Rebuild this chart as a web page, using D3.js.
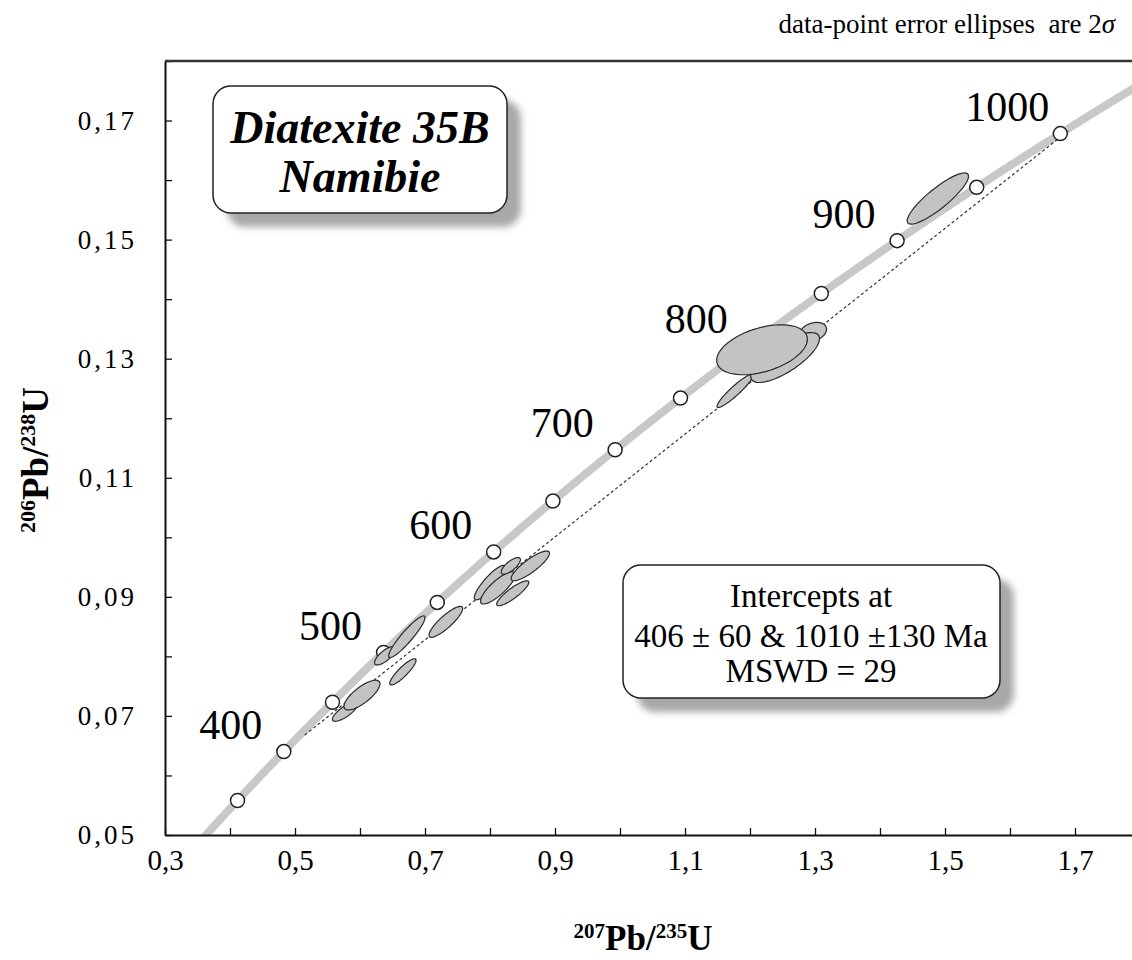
<!DOCTYPE html>
<html><head><meta charset="utf-8">
<script src="https://cdn.jsdelivr.net/npm/d3@7"></script>
<style>body{margin:0;background:#fff}svg{display:block}</style>
</head><body>
<svg id="chart" width="1132" height="960"></svg>
<script>
// ---------- data ----------
const xTicks = [0.3,0.4,0.5,0.6,0.7,0.8,0.9,1.0,1.1,1.2,1.3,1.4,1.5,1.6,1.7,1.8];
const xTickLabels = [0.3,0.5,0.7,0.9,1.1,1.3,1.5,1.7];
const yTicks = [0.05,0.06,0.07,0.08,0.09,0.10,0.11,0.12,0.13,0.14,0.15,0.16,0.17,0.18];
const yTickLabels = [0.05,0.07,0.09,0.11,0.13,0.15,0.17];
const markerAges = [350,400,450,500,550,600,650,700,750,800,850,900,950,1000];
const labelAges = [400,500,600,700,800,900,1000];
const concordiaRange = [300,1100];           // Ma
const lambda238 = 1.55125e-10, lambda235 = 9.8485e-10;
const discordiaX = [0.515,1.69];
const discordiaY = [0.0668,0.1683];
// error ellipses (2 sigma): centre, half-widths, correlation
const ellX   = [0.577,0.603,0.666,0.6385,0.672,0.732,0.800,0.812,0.835,0.832,0.862,1.177,1.297,1.254,1.2185,1.489];
const ellY   = [0.0707,0.0735,0.0774,0.0801,0.0833,0.0858,0.0924,0.0915,0.0906,0.0952,0.0952,0.1246,0.1345,0.1302,0.1315,0.1569];
const ellSX  = [0.0194,0.0277,0.0202,0.0161,0.0280,0.0259,0.0241,0.0266,0.0247,0.0148,0.0295,0.0278,0.0208,0.0529,0.0698,0.0472];
const ellSY  = [0.0016,0.0025,0.0022,0.00154,0.0035,0.0026,0.0029,0.0027,0.0021,0.0014,0.0025,0.0028,0.0016,0.0042,0.0042,0.0043];
const ellRho = [0.78,0.76,0.88,0.74,0.92,0.86,0.87,0.82,0.87,0.74,0.85,0.93,0.28,0.75,0.42,0.87];
const titleLines = ["Diatexite 35B","Namibie"];
const resultLines = ["Intercepts at","406 ± 60 & 1010 ±130 Ma","MSWD = 29"];
const noteText = "data-point error ellipses  are 2";
const noteSigma = "σ";
const xTitle = ["207","Pb/","235","U"];
const yTitle = ["206","Pb/","238","U"];

// ---------- setup ----------
const serif = "'Liberation Serif','Times New Roman',serif";
const svg = d3.select("#chart");
const x = d3.scaleLinear().domain([0.3,1.8]).range([165,1140]);
const y = d3.scaleLinear().domain([0.05,0.18]).range([835,61]);
const loc = d3.formatLocale({decimal:",",thousands:".",grouping:[3],currency:["",""]});
const fx = loc.format(".1f"), fy = loc.format(".2f");
const near = (arr,d) => arr.some(v => Math.abs(v-d) < 1e-9);

const defs = svg.append("defs");
defs.append("clipPath").attr("id","plotclip").append("rect")
  .attr("x",x(0.3)).attr("y",y(0.18)).attr("width",x(1.8)-x(0.3)).attr("height",y(0.05)-y(0.18));
const f = defs.append("filter").attr("id","shadow").attr("x","-20%").attr("y","-20%").attr("width","140%").attr("height","140%");
f.append("feGaussianBlur").attr("stdDeviation",3.5);

// ---------- concordia ----------
const conc = t => [Math.exp(lambda235*t*1e6)-1, Math.exp(lambda238*t*1e6)-1];
const concAges = d3.range(concordiaRange[0], concordiaRange[1]+1, 2);
const plot = svg.append("g").attr("clip-path","url(#plotclip)");
plot.append("path")
  .attr("d", d3.line().x(t=>x(conc(t)[0])).y(t=>y(conc(t)[1]))(concAges))
  .attr("fill","none").attr("stroke","#c8c8c8").attr("stroke-width",8);

// discordia
plot.append("path")
  .attr("d", d3.line()(discordiaX.map((v,i)=>[x(v),y(discordiaY[i])])))
  .attr("fill","none").attr("stroke","#333").attr("stroke-width",1.2).attr("stroke-dasharray","3,2.5");

// age markers
plot.selectAll("circle.age").data(markerAges).join("circle")
  .attr("cx",t=>x(conc(t)[0])).attr("cy",t=>y(conc(t)[1])).attr("r",7)
  .attr("fill","#fff").attr("stroke","#222").attr("stroke-width",1.5);

// ellipses
const theta = d3.range(0,64).map(i=>i/64*2*Math.PI);
const ellLine = d3.line().curve(d3.curveLinearClosed);
plot.selectAll("path.ell").data(ellX.map((v,i)=>i)).join("path")
  .attr("d", i => ellLine(theta.map(a => {
      const r = ellRho[i];
      return [x(ellX[i] + ellSX[i]*Math.cos(a)),
              y(ellY[i] + ellSY[i]*(r*Math.cos(a) + Math.sqrt(1-r*r)*Math.sin(a)))];
  })))
  .attr("fill","#c3c3c3").attr("stroke","#2a2a2a").attr("stroke-width",1.2);

// age labels
svg.selectAll("text.agelab").data(labelAges).join("text")
  .attr("x",t=>x(conc(t)[0])-53).attr("y",t=>y(conc(t)[1])-13)
  .attr("text-anchor","middle").attr("font-family",serif).attr("font-size",42)
  .attr("fill","#000").text(t=>t);

// ---------- axes ----------
const xAxis = d3.axisBottom(x).tickValues(xTicks).tickSize(-7).tickSizeOuter(0).tickPadding(14)
  .tickFormat(d => near(xTickLabels,d) ? fx(d) : "");
const gx = svg.append("g").attr("transform",`translate(0,${y(0.05)})`).call(xAxis);
gx.select(".domain").attr("stroke","#111").attr("stroke-width",2);
gx.selectAll(".tick line").attr("stroke","#111").attr("stroke-width",1.3);
gx.selectAll(".tick text").attr("font-family",serif).attr("font-size",29).attr("fill","#000");

const yAxis = d3.axisLeft(y).tickValues(yTicks).tickSize(-7).tickSizeOuter(0).tickPadding(28)
  .tickFormat(d => near(yTickLabels,d) ? fy(d) : "");
const gy = svg.append("g").attr("transform",`translate(${x(0.3)},0)`).call(yAxis);
gy.select(".domain").attr("stroke","#111").attr("stroke-width",2);
gy.selectAll(".tick line").attr("stroke","#111").attr("stroke-width",1.3);
gy.selectAll(".tick text").attr("font-family",serif).attr("font-size",27).attr("letter-spacing","3px").attr("fill","#000");

// top frame line
svg.append("line").attr("x1",x(0.3)).attr("x2",x(1.8)).attr("y1",y(0.18)).attr("y2",y(0.18))
  .attr("stroke","#333").attr("stroke-width",2.5);

// axis titles
const xt = svg.append("text").attr("x",643).attr("y",950).attr("text-anchor","middle")
  .attr("font-family",serif).attr("font-weight","bold").attr("fill","#000");
xTitle.forEach((s,i)=> xt.append("tspan").attr("font-size", i%2===0?21:35).attr("dy", i%2===0?-12:12).text(s));
const yt = svg.append("text").attr("transform","translate(48,460) rotate(-90)").attr("text-anchor","middle")
  .attr("font-family",serif).attr("font-weight","bold").attr("fill","#000");
yTitle.forEach((s,i)=> yt.append("tspan").attr("font-size", i%2===0?22:37).attr("dy", i%2===0?-13:13).text(s));

// note
const nt = svg.append("text").attr("x",1115).attr("y",33).attr("text-anchor","end")
  .attr("font-family",serif).attr("font-size",27).attr("fill","#000").attr("xml:space","preserve");
nt.append("tspan").text(noteText);
nt.append("tspan").attr("font-style","italic").text(noteSigma);

// ---------- boxes ----------
function box(x0,y0,x1,y1){
  svg.append("rect").attr("x",x0+14).attr("y",y0+14).attr("width",x1-x0).attr("height",y1-y0)
    .attr("rx",18).attr("fill","#a8a8a8").attr("filter","url(#shadow)");
  svg.append("rect").attr("x",x0).attr("y",y0).attr("width",x1-x0).attr("height",y1-y0)
    .attr("rx",18).attr("fill","#fff").attr("stroke","#222").attr("stroke-width",1.5);
}
box(213,86,507,213);
const tt = svg.append("g").attr("font-family",serif).attr("font-weight","bold").attr("font-style","italic")
  .attr("font-size",46).attr("text-anchor","middle").attr("fill","#000");
titleLines.forEach((s,i)=> tt.append("text").attr("x",360).attr("y",[143,192][i]).text(s));

box(623,565,1000,698);
const rt = svg.append("g").attr("font-family",serif).attr("font-size",33).attr("text-anchor","middle").attr("fill","#000");
resultLines.forEach((s,i)=> rt.append("text").attr("x",811).attr("y",[607,647,682][i]).text(s));
</script>
</body></html>
